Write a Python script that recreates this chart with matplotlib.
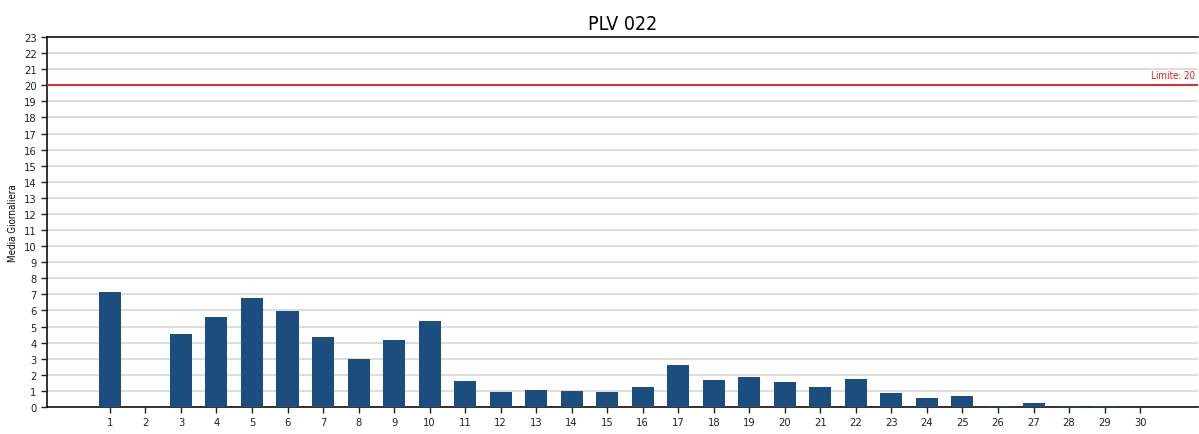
import numpy as np
import matplotlib.pyplot as plt

plt.rcParams['font.family'] = ['DejaVu Sans']
plt.rcParams['font.stretch'] = 'condensed'

# Data
days = list(range(1, 31))
values = [7.15, 0, 4.55, 5.61, 6.79, 5.98, 4.37, 3.0, 4.18, 5.36,
          1.59, 0.91, 1.08, 1.01, 0.91, 1.26, 2.59, 1.70, 1.88, 1.53,
          1.26, 1.76, 0.89, 0.58, 0.70, 0.08, 0.23, 0.08, 0.08, 0.01]
limit = 20
title = 'PLV 022'
ylabel = 'Media Giornaliera'

fig = plt.figure(figsize=(11.99, 4.35), dpi=100)
ax = fig.add_axes([47/1199, 27/435, 1151/1199, 370/435])

ax.bar(days, values, width=0.62, color='#1c4d7f', zorder=3)
ax.axhline(limit, color='#e31a1c', linewidth=1.3, zorder=4)
ax.text(30 + 1.55, limit + 0.35, f'Limite: {limit}', color='#e31a1c',
        fontsize=7, ha='right', va='bottom')

ax.set_xlim(1 - 1.77, 30 + 1.63)
ax.set_ylim(0, 23)
ax.set_yticks(range(0, 24))
ax.set_xticks(days)
ax.tick_params(labelsize=8, length=4, width=1, colors='#222222')
ax.yaxis.grid(True, color='#dddddd', linewidth=1.5, zorder=0)
ax.set_axisbelow(True)

for s in ['left', 'bottom', 'top']:
    ax.spines[s].set_color('#111111')
    ax.spines[s].set_linewidth(1.2)
ax.spines['right'].set_visible(False)

ax.set_ylabel(ylabel, fontsize=7, labelpad=4)
ax.set_title(title, fontsize=14, pad=6)

fig.savefig('out.png', dpi=100)
